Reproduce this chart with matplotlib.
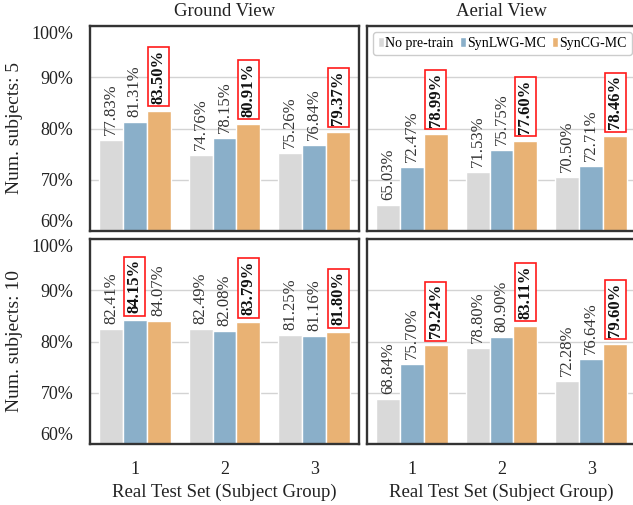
import matplotlib
matplotlib.use("Agg")
import matplotlib.pyplot as plt
import numpy as np

plt.rcParams['font.family'] = ['Liberation Serif', 'DejaVu Serif']

groups = ["1", "2", "3"]
methods = ["No pre-train", "SynLWG-MC", "SynCG-MC"]
colors = ["#d9d9d9", "#8aafc9", "#e9b274"]

ground_5 = {
    "No pre-train": [77.83, 74.76, 75.26],
    "SynLWG-MC": [81.31, 78.15, 76.84],
    "SynCG-MC": [83.50, 80.91, 79.37],
}
aerial_5 = {
    "No pre-train": [65.03, 71.53, 70.50],
    "SynLWG-MC": [72.47, 75.75, 72.71],
    "SynCG-MC": [78.99, 77.60, 78.46],
}
ground_10 = {
    "No pre-train": [82.41, 82.49, 81.25],
    "SynLWG-MC": [84.15, 82.08, 81.16],
    "SynCG-MC": [84.07, 83.79, 81.80],
}
aerial_10 = {
    "No pre-train": [68.84, 78.80, 72.28],
    "SynLWG-MC": [75.70, 80.90, 76.64],
    "SynCG-MC": [79.24, 83.11, 79.60],
}

col_titles = ["Ground View", "Aerial View"]
row_labels = ["Num. subjects: 5", "Num. subjects: 10"]
xlabel = "Real Test Set (Subject Group)"
yticks = [60, 70, 80, 90, 100]

W, H = 633, 505
fig = plt.figure(figsize=(W / 100, H / 100), dpi=100)

def px_axes(x0, y0, x1, y1):
    return fig.add_axes([x0 / W, 1 - y1 / H, (x1 - x0) / W, (y1 - y0) / H])

boxes = [[(90, 26, 359, 231), (367, 26, 636, 231)],
         [(90, 239, 359, 444), (367, 239, 636, 444)]]
data = [[ground_5, aerial_5], [ground_10, aerial_10]]

bar_w = 0.8 / 3
x = np.arange(len(groups))

for r in range(2):
    for c in range(2):
        ax = px_axes(*boxes[r][c])
        d = data[r][c]
        vals = np.array([d[m] for m in methods])
        best = vals.argmax(axis=0)
        for i, m in enumerate(methods):
            xs = x + (i - 1) * bar_w
            ax.bar(xs, d[m], width=bar_w, color=colors[i], edgecolor="white",
                   linewidth=1.0, label=m, zorder=2)
            for j, (xx, v) in enumerate(zip(xs, d[m])):
                if best[j] == i:
                    ax.annotate(f"{v:.2f}%", xy=(xx, v), xytext=(0, 5),
                                textcoords="offset points", rotation=90,
                                ha="center", va="bottom", fontsize=12,
                                fontweight="bold", zorder=4, color="#111111",
                                bbox=dict(boxstyle="square,pad=0.15", fc="white",
                                          ec="#ff1a1a", lw=1.2))
                else:
                    ax.annotate(f"{v:.2f}%", xy=(xx, v), xytext=(0, 3.5),
                                textcoords="offset points", rotation=90,
                                ha="center", va="bottom", fontsize=12,
                                color="#333333", zorder=4)
        ax.set_xlim(-0.5, 2.5)
        ax.set_ylim(60, 100)
        ax.set_yticks(yticks)
        ax.yaxis.grid(True, color="#d3d3d3", linewidth=1.0, zorder=0)
        ax.set_axisbelow(True)
        ax.tick_params(length=0, pad=12, labelsize=13, colors="#222222")
        for s in ax.spines.values():
            s.set_color("#333333")
            s.set_linewidth(1.7)
        ax.set_xticks(x)
        if c == 0:
            ax.set_yticklabels([f"{t}%" for t in yticks])
            labs = ax.get_yticklabels()
            labs[0].set_va("bottom")
            labs[-1].set_va("top")
            ax.set_ylabel(row_labels[r], fontsize=14, labelpad=6, color="#222222")
        else:
            ax.set_yticklabels([])
        if r == 1:
            ax.set_xticklabels(groups)
            ax.set_xlabel(xlabel, fontsize=13.5, labelpad=4, color="#222222")
        else:
            ax.set_xticklabels([])
            ax.set_title(col_titles[c], fontsize=13.5, pad=7, color="#222222")
        if r == 0 and c == 1:
            ax.legend(loc="upper left", bbox_to_anchor=(0.0, 1.0), ncol=3,
                      fontsize=10, handlelength=0.4, handleheight=0.75,
                      handletextpad=0.12, columnspacing=0.45, borderpad=0.35,
                      borderaxespad=0.45, frameon=True, edgecolor="#cccccc",
                      fancybox=True, framealpha=1.0)

fig.savefig("out.png", dpi=100, facecolor="white")
